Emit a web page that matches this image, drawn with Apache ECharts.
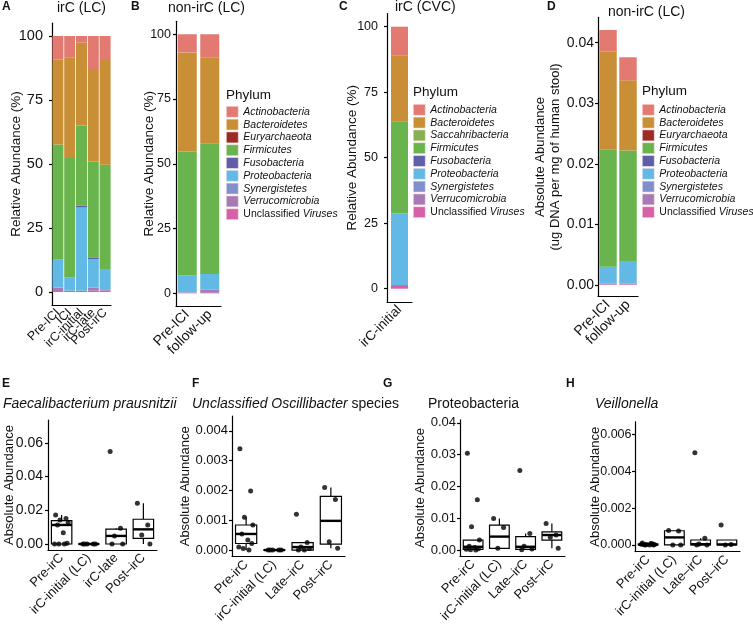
<!DOCTYPE html>
<html><head><meta charset="utf-8">
<script src="https://cdn.jsdelivr.net/npm/echarts@6/dist/echarts.min.js"></script>
<style>html,body{margin:0;padding:0;background:#fff}#c{width:753px;height:630px}</style>
</head><body><div id="c"></div>
<script>
const FONT = '"Liberation Sans", Arial, Helvetica, sans-serif';
const TXT = '#111';

// ---------- DATA ----------
const phyla = ['Actinobacteria','Bacteroidetes','Euryarchaeota','Firmicutes','Fusobacteria','Proteobacteria','Synergistetes','Verrucomicrobia','Unclassified Viruses'];
const phylaC = ['Actinobacteria','Bacteroidetes','Saccahribacteria','Firmicutes','Fusobacteria','Proteobacteria','Synergistetes','Verrucomicrobia','Unclassified Viruses'];

const A_cats = ['Pre-ICI','ICI','irC-initial','irC-late','Post-irC'];
const A_values = [
  [9.2, 8.5, 2.6, 12.9, 9.4],      // Actinobacteria
  [33.2, 39.2, 32.4, 36.1, 40.9],  // Bacteroidetes
  [0, 0, 0, 0, 0],                 // Euryarchaeota
  [44.8, 46.6, 31.2, 37.5, 40.7],  // Firmicutes
  [0.1, 0, 0.8, 0.6, 0],           // Fusobacteria
  [10.9, 5.2, 32.5, 11.2, 8.2],    // Proteobacteria
  [0.1, 0, 0, 0, 0],               // Synergistetes
  [1.3, 0.1, 0.1, 1.2, 0.2],       // Verrucomicrobia
  [0.4, 0.4, 0.4, 0.5, 0.6]        // Unclassified Viruses
];
const B_cats = ['Pre-ICI','follow-up'];
const B_values = [
  [7.0, 8.9], [38.3, 33.2], [0, 0], [47.8, 50.4], [0, 0], [6.5, 6.0], [0, 0], [0.1, 1.3], [0.3, 0.2]
];
const C_cats = ['irC-initial'];
const C_values = [
  [11.1], [25.2], [0], [35.0], [0], [27.3], [0], [0], [1.4]
];
const D_cats = ['Pre-ICI','follow-up'];
const D_values = [
  [0.0035, 0.0038], [0.0162, 0.0116], [0, 0], [0.01937, 0.01835], [0, 0], [0.00283, 0.0036], [0, 0], [0.0001, 0.00015], [0.0001, 0.0001]
];

const E_cats = ['Pre-irC','irC-initial (LC)','irC-late','Post\u2013irC'];
const F_cats = ['Pre-irC','irC-initial (LC)','Late\u2013irC','Post\u2013irC'];
const G_cats = ['Pre-irC','irC-initial (LC)','Late\u2013irC','Post\u2013irC'];
const H_cats = ['Pre-irC','irC-initial (LC)','Late\u2013irC','Post\u2013irC'];

// box stats: [lower whisker, Q1, median, Q3, upper whisker]
const E_box = [[0, 0, 0.0113, 0.0139, 0.0172], [0, 0, 0, 0, 0], [0, 0, 0.0048, 0.0088, 0.0093], [0, 0.0034, 0.0087, 0.0147, 0.0242]];
const E_pts = [[0.0172, 0.0152, 0.0143, 0.0127, 0.0113, 0.0067, 0.0004, 0, 0, 0], [0, 0, 0, 0, 0], [0.0549, 0.0093, 0.0048, 0, 0], [0.0242, 0.0113, 0.0053, 0]];
const F_box = [[0, 0.00022, 0.00054, 0.00084, 0.0011], [0, 0, 0, 0, 0], [0, 0, 0.0001, 0.00025, 0.00025], [0.00006, 0.0002, 0.00098, 0.0018, 0.0021]];
const F_pts = [[0.0034, 0.00198, 0.0011, 0.00084, 0.00054, 0.00034, 0.00022, 0.0001, 0, 0.00005], [0, 0, 0, 0, 0], [0.0012, 0.00025, 0.0001, 0.00005, 0, 0], [0.0021, 0.0017, 0.00028, 0.00006]];
const G_box = [[0, 0.0002, 0.001, 0.0031, 0.0031], [0.0005, 0.0005, 0.0042, 0.0078, 0.0099], [0, 0.0002, 0.001, 0.0042, 0.0052], [0.0005, 0.0031, 0.0047, 0.0057, 0.0083]];
const G_pts = [[0.0304, 0.0158, 0.0073, 0.0031, 0.0012, 0.0008, 0.0004, 0.0002, 0, 0.0001], [0.0099, 0.0071, 0.0005], [0.025, 0.0052, 0.0012, 0.0003, 0.0001], [0.0083, 0.0047, 0.004, 0.0005]];
const H_box = [[0, 0, 0.00002, 0.00005, 0.0001], [0, 0, 0.00041, 0.00077, 0.00078], [0, 0, 0.00004, 0.00027, 0.00036], [0, 0, 0.00003, 0.00027, 0.00027]];
const H_pts = [[0.0001, 0.00006, 0.00003, 0.00002, 0.00001, 0, 0, 0.00004, 0.00008, 0], [0.00078, 0.00076, 0, 0], [0.005, 0.00036, 0.00005, 0, 0], [0.00108, 0.00003, 0]];

const topTicks = [0, 25, 50, 75, 100];
const D_ticks = [0, 0.01, 0.02, 0.03, 0.04];
const E_ticks = [0, 0.02, 0.04, 0.06];
const F_ticks = [0, 0.001, 0.002, 0.003, 0.004];
const G_ticks = [0, 0.01, 0.02, 0.03, 0.04];
const H_ticks = [0, 0.002, 0.004, 0.006];

// ---------- STYLE ----------
const colors = {
  'Actinobacteria': '#E27A72', 'Bacteroidetes': '#C98F36', 'Euryarchaeota': '#9C2B25',
  'Firmicutes': '#69B44D', 'Saccahribacteria': '#86B052', 'Fusobacteria': '#5F5EA9',
  'Proteobacteria': '#62B9E6', 'Synergistetes': '#8090CC', 'Verrucomicrobia': '#A77AB6',
  'Unclassified Viruses': '#D562A6'
};
const jit = [-0.22, 0.16, -0.06, 0.24, -0.15, 0.06, 0.2, -0.26, 0.1, -0.1];

const axisLineStyle = {color: '#000', width: 1.2};

function catAxis(gi, cats, fs) {
  return {type: 'category', gridIndex: gi, data: cats, boundaryGap: true,
    axisLine: {onZero: false, lineStyle: axisLineStyle},
    axisTick: {alignWithLabel: true, length: 3.5, lineStyle: axisLineStyle},
    axisLabel: {rotate: 45, interval: 0, fontSize: fs, color: TXT, fontFamily: FONT, margin: 6, hideOverlap: false},
    splitLine: {show: false}};
}
function valAxis(gi, min, max, ticks, dec, name, gap, fs, nfs, margin) {
  return {type: 'value', gridIndex: gi, min: min, max: max,
    name: name, nameLocation: 'middle', nameGap: gap, nameRotate: 90, nameMoveOverlap: false,
    nameTextStyle: {fontSize: nfs, color: TXT, fontFamily: FONT, lineHeight: nfs + 2},
    axisLine: {show: true, onZero: false, lineStyle: axisLineStyle},
    axisTick: {show: true, length: 3, lineStyle: axisLineStyle, customValues: ticks},
    axisLabel: {fontSize: fs, color: TXT, fontFamily: FONT, margin: margin, customValues: ticks,
      formatter: v => dec < 0 ? String(Math.round(v)) : Number(v).toFixed(dec)},
    splitLine: {show: false}};
}

const grids = [
  {left: 52, top: 23.2, width: 59, height: 281.6},
  {left: 176, top: 21.3, width: 45, height: 285},
  {left: 387, top: 13.6, width: 25, height: 288.2},
  {left: 598, top: 17.3, width: 40, height: 279.2},
  {left: 48, top: 420.2, width: 109, height: 129.7},
  {left: 232, top: 416, width: 113, height: 140.6},
  {left: 460, top: 419.9, width: 105, height: 136.1},
  {left: 635, top: 421.8, width: 105, height: 129.8}
].map(g => Object.assign(g, {outerBoundsMode: 'none', containLabel: false}));

const xAxes = [
  catAxis(0, A_cats, 12.5), catAxis(1, B_cats, 14), catAxis(2, C_cats, 13.5), catAxis(3, D_cats, 14),
  catAxis(4, E_cats, 13), catAxis(5, F_cats, 13), catAxis(6, G_cats, 13), catAxis(7, H_cats, 13)
];
for (let g = 4; g < 8; g++) xAxes.push({type: 'value', gridIndex: g, min: -0.5, max: 3.5, show: false});

const yAxes = [
  valAxis(0, -5, 105, topTicks, -1, 'Relative Abundance (%)', 28, 14.5, 13.5, 9),
  valAxis(1, -5, 105, topTicks, -1, 'Relative Abundance (%)', 19, 12.5, 13.5, 5),
  valAxis(2, -5, 105, topTicks, -1, 'Relative Abundance (%)', 27, 12.5, 13.5, 9),
  valAxis(3, -0.0019, 0.0442, D_ticks, 2, 'Absolute Abundance\n(ug DNA per mg of human stool)', 35, 14, 13, 4),
  valAxis(4, -0.0035, 0.0735, E_ticks, 2, 'Absolute Abundance', 31, 14, 13, 5),
  valAxis(5, -0.00022, 0.0045, F_ticks, 3, 'Absolute Abundance', 39, 13, 13, 4),
  valAxis(6, -0.0019, 0.0409, G_ticks, 2, 'Absolute Abundance', 32.5, 13, 13, 4),
  valAxis(7, -0.00036, 0.00668, H_ticks, 3, 'Absolute Abundance', 32.5, 12.5, 13, 3.5)
];

const series = [];
function addStack(gi, names, values, bw) {
  for (let r = names.length - 1; r >= 0; r--) {
    series.push({type: 'bar', name: names[r], xAxisIndex: gi, yAxisIndex: gi, stack: 'st' + gi,
      data: values[r], barWidth: bw, itemStyle: {color: colors[names[r]]}, emphasis: {disabled: true}});
  }
}
addStack(0, phyla, A_values, 11);
addStack(1, phyla, B_values, 19);
addStack(2, phylaC, C_values, 17);
addStack(3, phyla, D_values, 17.5);

function boxRender(params, api) {
  const x = api.value(0);
  const pLo = api.coord([x, api.value(1)]), pQ1 = api.coord([x, api.value(2)]);
  const pMd = api.coord([x, api.value(3)]), pQ3 = api.coord([x, api.value(4)]), pHi = api.coord([x, api.value(5)]);
  const hw = api.size([0.375, 0])[0];
  const cx = pMd[0];
  const st = {stroke: '#000', lineWidth: 1.2, fill: null};
  return {type: 'group', children: [
    {type: 'line', shape: {x1: cx, y1: pHi[1], x2: cx, y2: pQ3[1]}, style: st},
    {type: 'line', shape: {x1: cx, y1: pQ1[1], x2: cx, y2: pLo[1]}, style: st},
    {type: 'rect', shape: {x: cx - hw, y: pQ3[1], width: 2 * hw, height: Math.max(0.01, pQ1[1] - pQ3[1])}, style: {fill: '#fff', stroke: '#000', lineWidth: 1.2}},
    {type: 'line', shape: {x1: cx - hw, y1: pMd[1], x2: cx + hw, y2: pMd[1]}, style: {stroke: '#000', lineWidth: 2.4}}
  ]};
}
function addBoxPanel(k, box, pts) {
  const gi = 4 + k, xi = 8 + k;
  series.push({type: 'custom', xAxisIndex: xi, yAxisIndex: gi, renderItem: boxRender,
    data: box.map((b, i) => [i].concat(b)), z: 2, silent: true});
  const sp = [];
  pts.forEach((grp, i) => grp.forEach((v, j) => sp.push([i + jit[j % jit.length], v])));
  series.push({type: 'scatter', xAxisIndex: xi, yAxisIndex: gi, data: sp, symbolSize: 5,
    itemStyle: {color: '#000'}, z: 3, silent: true});
}
addBoxPanel(0, E_box, E_pts);
addBoxPanel(1, F_box, F_pts);
addBoxPanel(2, G_box, G_pts);
addBoxPanel(3, H_box, H_pts);

const richTxt = {
  i: {fontStyle: 'italic', fontSize: 10.5, fontFamily: FONT, color: TXT, lineHeight: 11},
  n: {fontSize: 10.5, fontFamily: FONT, color: TXT, lineHeight: 11}
};
function legendFmt(name) {
  if (name === 'Unclassified Viruses') return '{n|Unclassified }{i|Viruses}';
  return '{i|' + name + '}';
}
function legend(left, top, names) {
  return {orient: 'vertical', left: left, top: top, padding: 0, itemWidth: 12, itemHeight: 11, itemGap: 1.2,
    icon: 'rect', selectedMode: false, data: names, formatter: legendFmt,
    itemStyle: {borderColor: 'rgba(255,235,235,0.9)', borderWidth: 0.6},
    textStyle: {fontSize: 10.5, fontFamily: FONT, color: TXT, lineHeight: 11, rich: richTxt}};
}

function T(text, left, top, fs, extra) {
  return {text: text, left: left, top: top, padding: 0,
    textStyle: Object.assign({fontSize: fs, fontWeight: 'normal', fontFamily: FONT, color: TXT,
      rich: {i: {fontStyle: 'italic', fontSize: fs, fontFamily: FONT, color: TXT}, n: {fontSize: fs, fontFamily: FONT, color: TXT}}}, extra || {})};
}
const bold = {fontWeight: 'bold'};
const titles = [
  T('A', 2, 1, 12, bold), T('B', 131, 1, 12, bold), T('C', 339, 1, 12, bold), T('D', 547, 1, 12, bold),
  T('E', 2, 378, 12, bold), T('F', 192, 378, 12, bold), T('G', 383, 378, 12, bold), T('H', 566, 378, 12, bold),
  T('irC (LC)', 57, 1, 14), T('non-irC (LC)', 168, 1, 14), T('irC (CVC)', 395, 0, 14), T('non-irC (LC)', 608, 5, 14),
  T('Phylum', 226, 88, 13.5), T('Phylum', 413, 85, 13.5), T('Phylum', 642, 84, 13.5),
  T('{i|Faecalibacterium prausnitzii}', 3, 397, 14), T('{i|Unclassified Oscillibacter} {n|species}', 192, 397, 14),
  T('Proteobacteria', 428, 397, 14), T('{i|Veillonella}', 595, 397, 14)
];

const chart = echarts.init(document.getElementById('c'), null, {renderer: 'canvas'});
chart.setOption({
  backgroundColor: '#fff', animation: false,
  title: titles,
  legend: [legend(226, 106, phyla), legend(413, 104, phylaC), legend(642, 104, phyla)],
  grid: grids, xAxis: xAxes, yAxis: yAxes, series: series
});
</script></body></html>
